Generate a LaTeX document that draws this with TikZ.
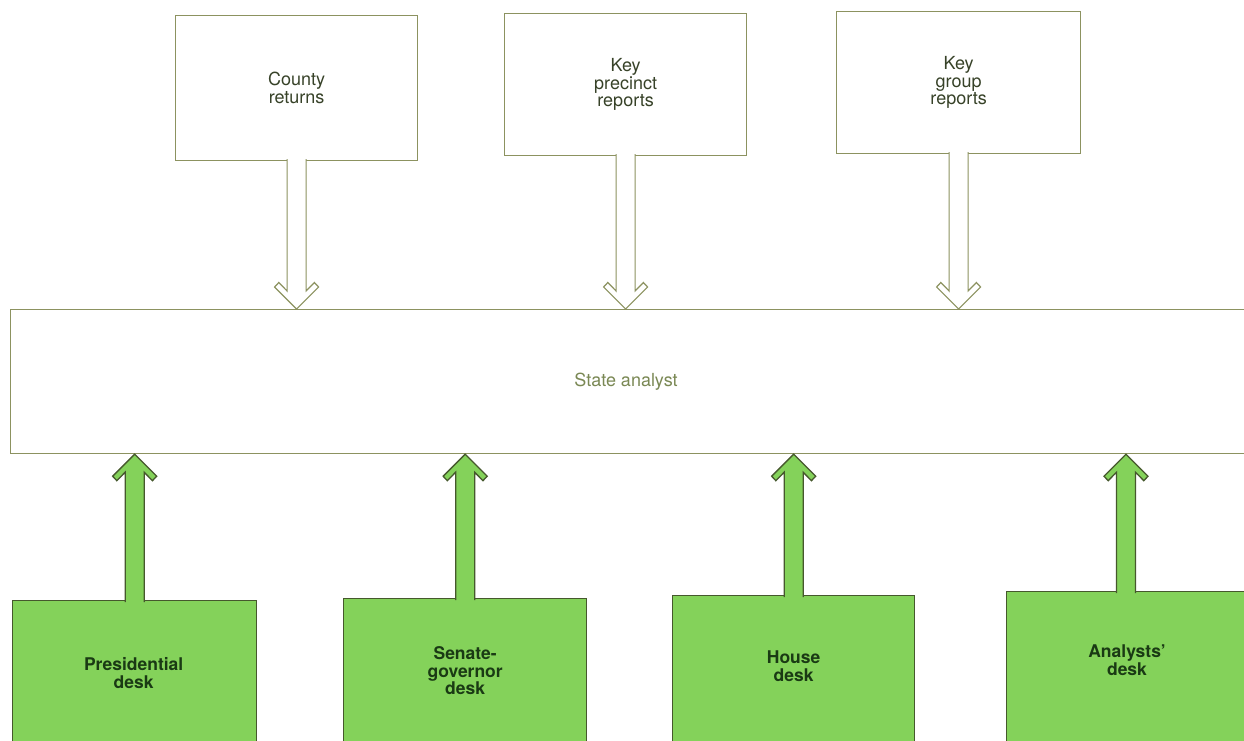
\documentclass[tikz,border=0pt]{standalone}
\usepackage{fontspec}
\setmainfont{TeX Gyre Heros}
\usetikzlibrary{calc}

\definecolor{outline}{RGB}{140,146,96}
\definecolor{inktext}{RGB}{55,66,40}
\definecolor{satext}{RGB}{122,136,84}
\definecolor{deskfill}{RGB}{132,210,90}
\definecolor{deskline}{RGB}{70,88,45}
\definecolor{desktext}{RGB}{26,58,20}

% Block arrow with swept-back chevron head.
% #1 style, #2 point on the source box edge, #3 tip, #4 = 1 (tip above) or -1 (tip below)
\newcommand\blockarrow[4]{%
  \path[#1] let \p1=(#2), \p2=(#3) in
    ({\x2-9.5pt},{\y1-(#4)*2pt}) -- ({\x2-9.5pt},{\y2-(#4)*18pt})
    -- ({\x2-17.8pt},{\y2-(#4)*26.5pt}) -- ({\x2-22pt},{\y2-(#4)*22pt})
    -- (\x2,\y2)
    -- ({\x2+22pt},{\y2-(#4)*22pt}) -- ({\x2+17.8pt},{\y2-(#4)*26.5pt})
    -- ({\x2+9.5pt},{\y2-(#4)*18pt}) -- ({\x2+9.5pt},{\y1-(#4)*2pt});
}

\begin{document}
\begin{tikzpicture}[x=1pt,y=-1pt,
  sourcebox/.style={draw=outline, line width=1.2pt, fill=white, anchor=north west,
    inner sep=0pt, align=center, text=inktext,
    font=\fontsize{18}{17.5}\selectfont},
  deskbox/.style={draw=deskline, line width=1.3pt, fill=deskfill, anchor=north west,
    inner sep=0pt, minimum height=200pt},
  desklabel/.style={align=center, text=desktext, inner sep=0pt,
    font=\fontsize{17.5}{17.5}\selectfont\bfseries},
  inarrow/.style={draw=outline, line width=1.2pt, fill=white, line join=miter},
  outarrow/.style={draw=deskline, line width=1.3pt, fill=deskfill, line join=miter}]

\useasboundingbox (0,0) rectangle (1244,740);
\fill[white] (0,0) rectangle (1244,740);
\clip (0,0) rectangle (1244,740);

% central analyst box (runs past the right edge)
\node[draw=outline, line width=1.2pt, anchor=north west, inner sep=0pt,
      minimum width=1280pt, minimum height=144pt] (sa) at (10,309) {};
\node[text=satext, font=\fontsize{18}{18}\selectfont] (salabel) at (626,382) {State analyst};

% incoming report sources
\node[sourcebox, minimum width=242pt, minimum height=145pt] (c1) at (175,15)
  {County\\returns};
\node[sourcebox, minimum width=242pt, minimum height=142pt] (c2) at (504,13)
  {Key\\precinct\\reports};
\node[sourcebox, minimum width=244pt, minimum height=142pt] (c3) at (836,11)
  {Key\\group\\reports};

\blockarrow{inarrow}{c1.south}{c1.south |- sa.north}{-1}
\blockarrow{inarrow}{c2.south}{c2.south |- sa.north}{-1}
\blockarrow{inarrow}{c3.south}{c3.south |- sa.north}{-1}

% desks feeding the analyst (they run past the lower edge, the last one past the right edge)
\node[deskbox, minimum width=244pt] (g1) at (12,600) {};
\node[deskbox, minimum width=243pt] (g2) at (343,598) {};
\node[deskbox, minimum width=242pt] (g3) at (672,595) {};
\node[deskbox, minimum width=260pt] (g4) at (1006,591) {};
\coordinate (g4stem) at ($(g4.north west)+(120,0)$);

\node[desklabel] (g1label) at ($(g1.north)+(-1,73)$) {Presidential\\desk};
\node[desklabel] (g2label) at ($(g2.north)+(0,73)$) {Senate-\\governor\\desk};
\node[desklabel] (g3label) at ($(g3.north)+(0,71)$) {House\\desk};
\node[desklabel] (g4label) at ($(g4stem)+(1,69)$) {Analysts'\\desk};

\blockarrow{outarrow}{g1.north}{g1.north |- sa.south}{1}
\blockarrow{outarrow}{g2.north}{g2.north |- sa.south}{1}
\blockarrow{outarrow}{g3.north}{g3.north |- sa.south}{1}
\blockarrow{outarrow}{g4stem}{g4stem |- sa.south}{1}

\end{tikzpicture}
\end{document}
